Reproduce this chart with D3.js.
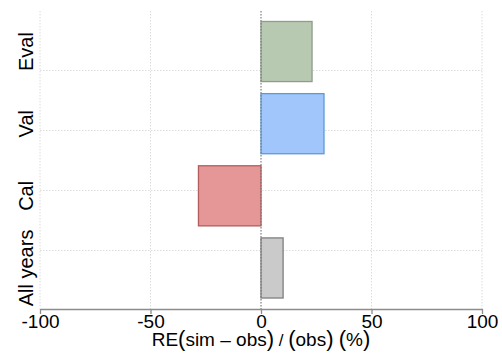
<!DOCTYPE html>
<html>
<head>
<meta charset="utf-8">
<script src="https://cdn.jsdelivr.net/npm/d3@7"></script>
<style>
  html, body { margin: 0; padding: 0; background: #fff; }
  svg { display: block; font-family: Arial, "Liberation Sans", sans-serif; }
</style>
</head>
<body>
<svg id="chart" width="502" height="354"></svg>
<script>
// Relative error per period, in percent
const categories = ["Eval", "Val", "Cal", "All years"];
const values = [23.1, 28.5, -28.3, 10.0];
const fills = ["#b8c9b1", "#a1c6fc", "#e59696", "#cacaca"];
const strokes = ["#8f9c8b", "#5b9bd5", "#b35c5c", "#7f7f7f"];
const xTicks = [-100, -50, 0, 50, 100];
const xTickLabels = ["-100", "-50", "0", "50", "100"];
const hGrid = [1, 2, 3, 4];

const svg = d3.select("#chart");
const plotLeft = 40, plotRight = 482, plotTop = 11, plotBottom = 309;

const x = d3.scaleLinear().domain([-100, 100]).range([plotLeft, plotRight]);
const y = d3.scaleBand().domain(categories).range([15.5, 304])
  .paddingInner(0.167).paddingOuter(0.083);
const g = d3.scaleLinear().domain([0, 5]).range([310, 10]);

// grid
svg.append("g").selectAll("line").data(xTicks).join("line")
  .attr("x1", d => x(d)).attr("x2", d => x(d))
  .attr("y1", plotTop).attr("y2", plotBottom)
  .attr("stroke", "#dcdcdc").attr("stroke-width", 1).attr("stroke-dasharray", "1.5,1.5");
svg.append("g").selectAll("line").data(hGrid).join("line")
  .attr("x1", plotLeft).attr("x2", plotRight)
  .attr("y1", d => Math.round(g(d)) + 0.5).attr("y2", d => Math.round(g(d)) + 0.5)
  .attr("stroke", "#dcdcdc").attr("stroke-width", 1).attr("stroke-dasharray", "1.5,1.5");

// bars
svg.append("g").selectAll("rect").data(categories).join("rect")
  .attr("x", (d, i) => x(Math.min(0, values[i])))
  .attr("width", (d, i) => Math.abs(x(values[i]) - x(0)))
  .attr("y", d => y(d))
  .attr("height", y.bandwidth())
  .attr("fill", (d, i) => fills[i])
  .attr("stroke", (d, i) => strokes[i])
  .attr("stroke-width", 1.3);

// zero line
svg.append("line")
  .attr("x1", x(0)).attr("x2", x(0)).attr("y1", plotTop).attr("y2", plotBottom)
  .attr("stroke", "#777").attr("stroke-width", 1).attr("stroke-dasharray", "1.5,1.5");

// x axis
const axis = d3.axisBottom(x).tickValues(xTicks)
  .tickFormat((d, i) => xTickLabels[i]).tickSize(5).tickPadding(1).tickSizeOuter(0);
const ax = svg.append("g").attr("transform", `translate(0,${plotBottom})`).call(axis);
ax.select(".domain").attr("stroke", "#8c8c8c").attr("stroke-width", 1.3);
ax.selectAll(".tick line").attr("stroke", "#8c8c8c").attr("stroke-width", 1.3);
ax.selectAll(".tick text").attr("font-size", 19).attr("fill", "#000")
  .attr("font-family", "Arial, 'Liberation Sans', sans-serif");

// axis title
const title = svg.append("text").attr("x", x(0)).attr("y", 346)
  .attr("text-anchor", "middle").attr("font-size", 19).attr("fill", "#000");
const parts = [["RE", 19], ["(", 22], ["sim \u2013 obs", 19], [")", 22], [" / ", 17],
  ["(", 22], ["obs", 19], [")", 22], [" ", 19], ["(", 22], ["%", 19], [")", 22]];
parts.forEach(([t, s]) => title.append("tspan").attr("font-size", s).text(t));

// y category labels
svg.append("g").selectAll("text").data(categories).join("text")
  .attr("transform", d => `translate(33,${y(d) + y.bandwidth() / 2}) rotate(-90)`)
  .attr("text-anchor", "middle").attr("font-size", 20).attr("fill", "#000")
  .text(d => d);
</script>
</body>
</html>
